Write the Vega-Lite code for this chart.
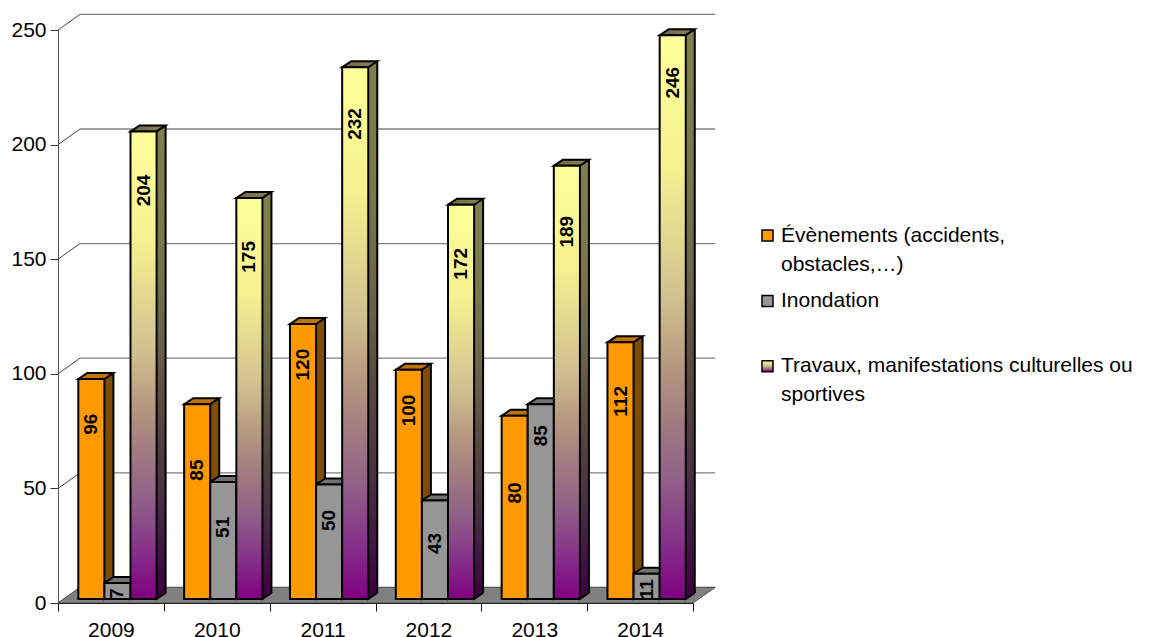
{
  "$schema": "https://vega.github.io/schema/vega-lite/v6.json",
  "autosize": "none",
  "width": 635,
  "height": 573,
  "padding": {"left": 58, "top": 30, "right": 456, "bottom": 34},
  "background": "white",
  "config": {
    "font": "Liberation Sans",
    "view": {"stroke": null},
    "style": {"guide-label": {"lineHeight": 29}},
    "axis": {"labelFont": "Liberation Sans", "labelFontSize": 21, "labelColor": "#000000", "title": null, "grid": false}
  },
  "datasets": {
    "bars": [
      {"year": "2009", "series": "Évènements (accidents, obstacles,…)", "value": 96, "labelAt": 78},
      {"year": "2009", "series": "Inondation", "value": 7, "labelAt": 4},
      {"year": "2009", "series": "Travaux, manifestations culturelles ou sportives", "value": 204, "labelAt": 180},
      {"year": "2010", "series": "Évènements (accidents, obstacles,…)", "value": 85, "labelAt": 58},
      {"year": "2010", "series": "Inondation", "value": 51, "labelAt": 33},
      {"year": "2010", "series": "Travaux, manifestations culturelles ou sportives", "value": 175, "labelAt": 151},
      {"year": "2011", "series": "Évènements (accidents, obstacles,…)", "value": 120, "labelAt": 104},
      {"year": "2011", "series": "Inondation", "value": 50, "labelAt": 36},
      {"year": "2011", "series": "Travaux, manifestations culturelles ou sportives", "value": 232, "labelAt": 209},
      {"year": "2012", "series": "Évènements (accidents, obstacles,…)", "value": 100, "labelAt": 84},
      {"year": "2012", "series": "Inondation", "value": 43, "labelAt": 26},
      {"year": "2012", "series": "Travaux, manifestations culturelles ou sportives", "value": 172, "labelAt": 148},
      {"year": "2013", "series": "Évènements (accidents, obstacles,…)", "value": 80, "labelAt": 48},
      {"year": "2013", "series": "Inondation", "value": 85, "labelAt": 73},
      {"year": "2013", "series": "Travaux, manifestations culturelles ou sportives", "value": 189, "labelAt": 162},
      {"year": "2014", "series": "Évènements (accidents, obstacles,…)", "value": 112, "labelAt": 88},
      {"year": "2014", "series": "Inondation", "value": 11, "labelAt": 6},
      {"year": "2014", "series": "Travaux, manifestations culturelles ou sportives", "value": 246, "labelAt": 227}
    ],
    "levels": [
      {"level": 0, "back": 6.8},
      {"level": 50, "back": 56.8},
      {"level": 100, "back": 106.8},
      {"level": 150, "back": 156.8},
      {"level": 200, "back": 206.8},
      {"level": 250, "back": 256.8}
    ],
    "floor": [
      {"pos": 0, "low": 0, "high": 0},
      {"pos": 0.208, "low": 0, "high": 6.8},
      {"pos": 6, "low": 0, "high": 6.8},
      {"pos": 6.21, "low": 6.8, "high": 6.8}
    ]
  },
  "encoding": {
    "y": {"type": "quantitative", "scale": {"domain": [0, 250], "nice": false}}
  },
  "layer": [
    {
      "description": "Chart box: floor, left wall and back wall gridlines",
      "layer": [
        {
          "data": {"name": "levels"},
          "mark": {"type": "rule", "color": "#7f7f7f", "strokeWidth": 1.3},
          "encoding": {
            "x": {"datum": 0.208, "type": "quantitative", "axis": null, "scale": {"domain": [0, 6], "nice": false, "zero": false}},
            "x2": {"datum": 6.21},
            "y": {"field": "back", "type": "quantitative"}
          }
        },
        {
          "data": {"name": "levels"},
          "mark": {"type": "rule", "color": "#444444", "strokeWidth": 1},
          "encoding": {
            "x": {"datum": 0, "type": "quantitative", "axis": null},
            "x2": {"datum": 0.208},
            "y": {"field": "level", "type": "quantitative"},
            "y2": {"field": "back"}
          }
        },
        {
          "data": {"name": "floor"},
          "mark": {"type": "area", "color": "#808080", "stroke": "#555555", "strokeWidth": 1, "line": false, "interpolate": "linear"},
          "encoding": {
            "x": {"field": "pos", "type": "quantitative", "axis": null},
            "y": {"field": "low", "type": "quantitative", "axis": {"values": [0, 50, 100, 150, 200, 250], "tickSize": 8, "tickColor": "#333333", "domainColor": "#555555", "labelPadding": 4}},
            "y2": {"field": "high"}
          }
        }
      ]
    },
    {
      "description": "Bars: side faces, top faces, front faces and value labels",
      "data": {"name": "bars"},
      "layer": [
        {
          "mark": {"type": "bar", "width": 9, "yOffset": -10, "y2Offset": -10},
          "encoding": {
            "x": {"field": "year", "type": "nominal", "scale": {"paddingInner": 0, "paddingOuter": 0}, "axis": {"tickBand": "extent", "labelAngle": 0, "tickSize": 8, "tickColor": "#111111", "domainColor": "#222222", "labelPadding": 8, "zindex": 1}},
            "xOffset": {"field": "series", "type": "nominal", "sort": null, "scale": {"domain": ["Évènements (accidents, obstacles,…)", "Inondation", "Travaux, manifestations culturelles ou sportives"], "range": [37.85, 116.15], "paddingInner": 0, "paddingOuter": 0}},
            "y": {"field": "value", "type": "quantitative", "stack": null},
            "y2": {"datum": 0},
            "fill": {
              "condition": {"test": "indexof(datum.series,'Travaux')===0", "value": {"gradient": "linear", "x1": 0, "y1": 0, "x2": 0, "y2": 1, "stops": [{"offset": 0, "color": "#80804c"}, {"offset": 0.24, "color": "#7a7848"}, {"offset": 0.47, "color": "#686048"}, {"offset": 0.58, "color": "#5c4d40"}, {"offset": 0.69, "color": "#503d40"}, {"offset": 0.79, "color": "#483044"}, {"offset": 0.9, "color": "#421845"}, {"offset": 1, "color": "#400040"}]}},
              "field": "series", "type": "nominal", "legend": null, "scale": {
              "domain": ["Évènements (accidents, obstacles,…)", "Inondation", "Travaux, manifestations culturelles ou sportives"],
              "range": ["#804d00", "#4b4b4b", "#400040"]
            }}
          }
        },
        {
          "mark": {"type": "rule", "strokeWidth": 2, "yOffset": -10, "y2Offset": -10},
          "encoding": {
            "x": {"field": "year", "type": "nominal"},
            "xOffset": {"field": "series", "type": "nominal", "sort": null, "scale": {"domain": ["Évènements (accidents, obstacles,…)", "Inondation", "Travaux, manifestations culturelles ou sportives"], "range": [42.35, 120.65], "padding": 0}},
            "y": {"field": "value", "type": "quantitative"},
            "y2": {"datum": 0},
            "stroke": {"field": "series", "type": "nominal", "scale": {
              "domain": ["Évènements (accidents, obstacles,…)", "Inondation", "Travaux, manifestations culturelles ou sportives"],
              "range": ["#000000", "#000000", "#000000"]
            }, "legend": {
              "title": null,
              "orient": "none",
              "legendX": 699,
              "legendY": 195,
              "symbolType": "square",
              "symbolSize": 121,
              "symbolStrokeWidth": 1.5,
              "labelFont": "Liberation Sans",
              "labelFontSize": 21,
              "labelColor": "#000000",
              "labelLimit": 420,
              "labelOffset": 3,
              "labelExpr": "split(replace(replace(replace(datum.label,'(accidents, ','(accidents,|'),'ou sportives','ou|sportives'),'Inondation','Inondation| '),'|')",
              "rowPadding": 14.4,
              "encode": {
                "labels": {"update": {"lineHeight": {"value": 29}}},
                "symbols": {"update": {
                  "fill": {"signal": "datum.value==='Inondation' ? '#969696' : indexof(datum.value,'Travaux')===0 ? {gradient:'linear',x1:0,y1:0,x2:0,y2:1,stops:[{offset:0,color:'#ffff99'},{offset:0.47,color:'#d0c090'},{offset:1,color:'#800080'}]} : '#ff9900'"}
                }}
              }
            }}
          }
        },
        {
          "mark": {"type": "point", "shape": "M13,-6L13,0L22,-6", "size": 4, "filled": true, "opacity": 1, "stroke": "#000000", "strokeWidth": 2, "yOffset": -4},
          "encoding": {
            "x": {"field": "year", "type": "nominal"},
            "xOffset": {"field": "series", "type": "nominal", "sort": null, "scale": {"domain": ["Évènements (accidents, obstacles,…)", "Inondation", "Travaux, manifestations culturelles ou sportives"], "range": [33.35, 85.55], "padding": 0}},
            "y": {"datum": 0, "type": "quantitative"},
            "fill": {"field": "series", "type": "nominal", "legend": null, "scale": {
              "domain": ["Évènements (accidents, obstacles,…)", "Inondation", "Travaux, manifestations culturelles ou sportives"],
              "range": ["#804d00", "#4b4b4b", "#400040"]
            }}
          }
        },
        {
          "mark": {"type": "point", "shape": "M-13,0L13,0L22,-6L-4,-6Z", "size": 4, "filled": true, "opacity": 1, "stroke": "#000000", "strokeWidth": 2, "yOffset": -4},
          "encoding": {
            "x": {"field": "year", "type": "nominal"},
            "xOffset": {"field": "series", "type": "nominal", "sort": null, "scale": {"domain": ["Évènements (accidents, obstacles,…)", "Inondation", "Travaux, manifestations culturelles ou sportives"], "range": [33.35, 85.55], "padding": 0}},
            "y": {"field": "value", "type": "quantitative"},
            "fill": {
              "condition": {"test": "indexof(datum.series,'Travaux')===0", "value": {"gradient": "linear", "x1": 0, "y1": 0, "x2": 1, "y2": 0, "stops": [{"offset": 0, "color": "#6f6648"}, {"offset": 1, "color": "#8a8456"}]}},
              "field": "series", "type": "nominal", "legend": null, "scale": {
              "domain": ["Évènements (accidents, obstacles,…)", "Inondation", "Travaux, manifestations culturelles ou sportives"],
              "range": ["#bf7300", "#727272", "#807060"]
            }}
          }
        },
        {
          "mark": {"type": "bar", "stroke": "#000000", "strokeWidth": 2, "yOffset": -4, "y2Offset": -4},
          "encoding": {
            "x": {"field": "year", "type": "nominal"},
            "xOffset": {"field": "series", "type": "nominal", "sort": null, "scale": {"domain": ["Évènements (accidents, obstacles,…)", "Inondation", "Travaux, manifestations culturelles ou sportives"], "range": [20.3, 98.6], "paddingInner": 0, "paddingOuter": 0}},
            "y": {"field": "value", "type": "quantitative", "stack": null},
            "y2": {"datum": 0},
            "fill": {
              "condition": {"test": "indexof(datum.series,'Travaux')===0", "value": {"gradient": "linear", "x1": 0, "y1": 0, "x2": 0, "y2": 1, "stops": [{"offset": 0, "color": "#ffff99"}, {"offset": 0.24, "color": "#f5f090"}, {"offset": 0.47, "color": "#d0c090"}, {"offset": 0.58, "color": "#b89a80"}, {"offset": 0.69, "color": "#a07a80"}, {"offset": 0.79, "color": "#905f88"}, {"offset": 0.9, "color": "#85308a"}, {"offset": 1, "color": "#800080"}]}},
              "field": "series", "type": "nominal", "legend": null, "scale": {
              "domain": ["Évènements (accidents, obstacles,…)", "Inondation", "Travaux, manifestations culturelles ou sportives"],
              "range": ["#ff9900", "#969696", "#bf808c"]
            }}
          }
        },
        {
          "mark": {"type": "text", "angle": 270, "align": "center", "baseline": "middle", "fontSize": 19, "fontWeight": "bold", "color": "#000000"},
          "encoding": {
            "x": {"field": "year", "type": "nominal"},
            "xOffset": {"field": "series", "type": "nominal", "sort": null, "scale": {"domain": ["Évènements (accidents, obstacles,…)", "Inondation", "Travaux, manifestations culturelles ou sportives"], "range": [33.35, 85.55], "padding": 0}},
            "y": {"field": "labelAt", "type": "quantitative"},
            "text": {"field": "value", "type": "quantitative"}
          }
        }
      ],
      "resolve": {"scale": {"fill": "independent", "xOffset": "independent"}}
    }
  ],
  "resolve": {"scale": {"x": "independent"}}
}
